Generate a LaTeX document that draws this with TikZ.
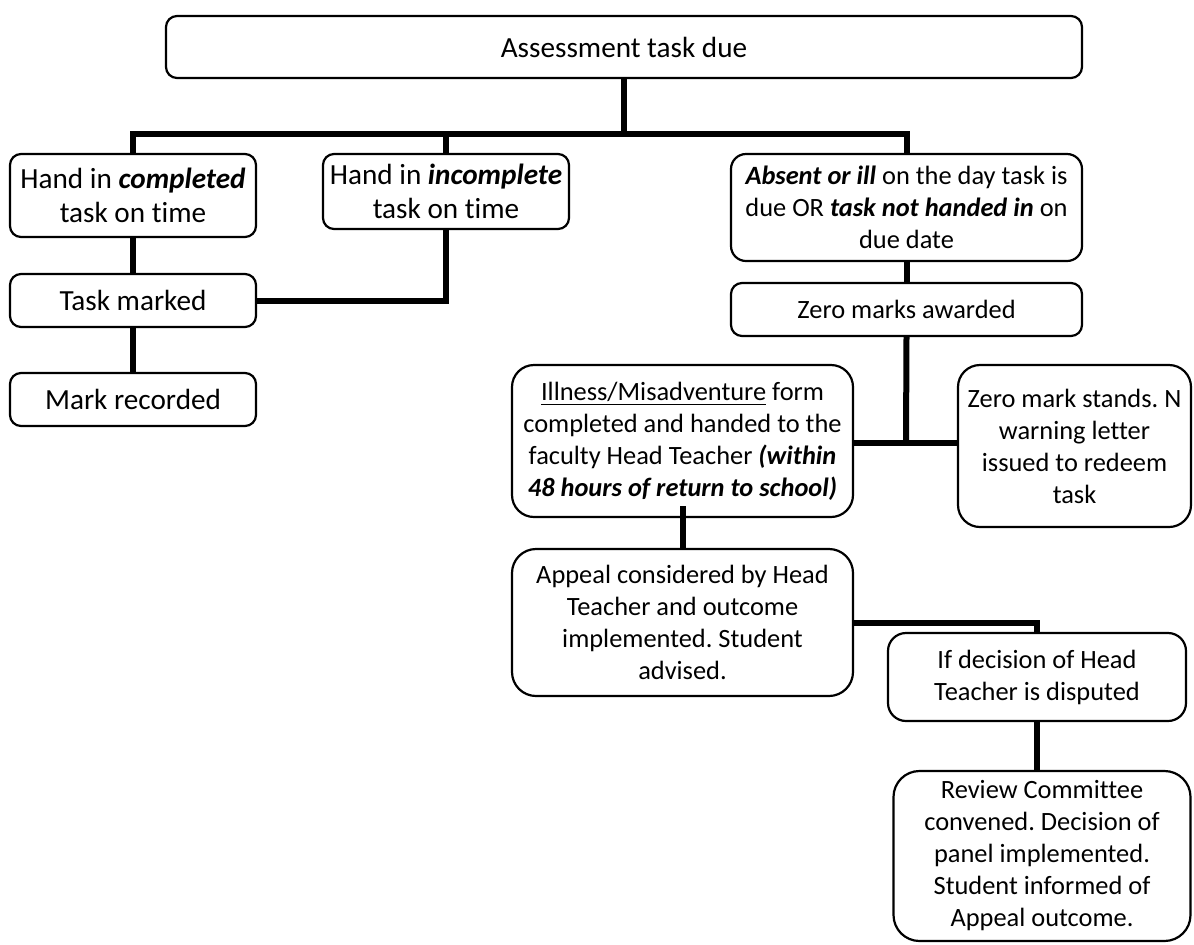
\documentclass[tikz,border=0pt]{standalone}
\usepackage{fontspec}
\setmainfont{Carlito}[Ligatures=NoCommon]
\usepackage{tikz}
\usetikzlibrary{positioning,calc}
\definecolor{boxline}{RGB}{0,0,0}
\definecolor{linkline}{RGB}{0,0,0}
\frenchspacing

\begin{document}
\begin{tikzpicture}[
  x=0.5pt, y=-0.5pt,
  bigtext/.style={font=\fontsize{14.6pt}{17.2pt}\selectfont},
  smalltext/.style={font=\fontsize{13.2pt}{16pt}\selectfont},
  stage/.style={rectangle, rounded corners=5.5pt, draw=boxline,
    line width=1.1pt, fill=white, align=center, inner sep=0pt},
  roundstage/.style={stage, rounded corners=11pt},
  link/.style={line width=3pt, color=linkline, line join=miter},
]
\useasboundingbox (0,0) rectangle (1194,944);

% Junction points of the tree
\coordinate (bar)  at (624,134);
\coordinate (fork) at (906,443);

% Top row
\node[stage, bigtext, minimum width=458pt, minimum height=31pt] (due) at (624,47)
  {Assessment task due};
\node[stage, bigtext, minimum width=123pt, minimum height=41.5pt] (done) at (133,195.5)
  {Hand in \textbf{\textit{completed}}\\task on time};
\node[stage, bigtext, minimum width=123pt, minimum height=37.5pt] (part) at (446,191.5)
  {Hand in \textbf{\textit{incomplete}}\\task on time};
\node[stage, smalltext, rounded corners=7.5pt, minimum width=175.5pt, minimum height=53.5pt] (absent) at (906.5,207.5)
  {\textbf{\textit{Absent or ill}} on the day task is\\due OR \textbf{\textit{task not handed in}} on\\due date};

% Left branch
\node[stage, bigtext, minimum width=123pt, minimum height=26.5pt] (marked) at (133,300.5)
  {Task marked};
\node[stage, bigtext, minimum width=123pt, minimum height=26.5pt] (recorded) at (133,399.5)
  {Mark recorded};

% Right branch
\node[stage, smalltext, minimum width=175.5pt, minimum height=26.5pt] (zero) at (906.5,309.5)
  {Zero marks awarded};
\node[roundstage, smalltext, minimum width=170.5pt, minimum height=76pt] (ill) at (682.5,441)
  {\underline{Illness/Misadventure} form\\completed and handed to the\\faculty Head Teacher \textbf{\textit{(within}}\\\textbf{\textit{48 hours of return to school)}}};
\node[roundstage, smalltext, minimum width=116.5pt, minimum height=81pt] (stand) at (1074.5,446)
  {Zero mark stands. N\\warning letter\\issued to redeem\\task};
\node[roundstage, smalltext, rounded corners=12pt, minimum width=170.5pt, minimum height=73.5pt] (appeal) at (682.5,622.5)
  {Appeal considered by Head\\Teacher and outcome\\implemented. Student\\advised.};
\node[stage, smalltext, rounded corners=9pt, minimum width=149pt, minimum height=44pt] (dispute) at (1037,677)
  {If decision of Head\\Teacher is disputed};
\node[roundstage, smalltext, rounded corners=13pt, minimum width=148.5pt, minimum height=85pt] (review) at (1042,856)
  {Review Committee\\convened. Decision of\\panel implemented.\\Student informed of\\Appeal outcome.};

% Connectors
\draw[link] (due.south) -- (bar);
\draw[link] (done.north) |- (bar) -| (absent.north);
\draw[link] (part.north) -- (part.north |- bar);
\draw[link] (done.south) -- (marked.north);
\draw[link] (part.south) |- (marked.east);
\draw[link] (marked.south) -- (recorded.north);
\draw[link] (absent.south) -- (zero.north);
\draw[link] (zero.south) -- (fork);
\draw[link] (ill.east |- fork) -- (stand.west |- fork);
\draw[link] (appeal.north) -- ++(0,-42);
\draw[link] (appeal.east) -| (dispute.north);
\draw[link] (dispute.south) -- (dispute.south |- review.north);

\end{tikzpicture}
\end{document}
